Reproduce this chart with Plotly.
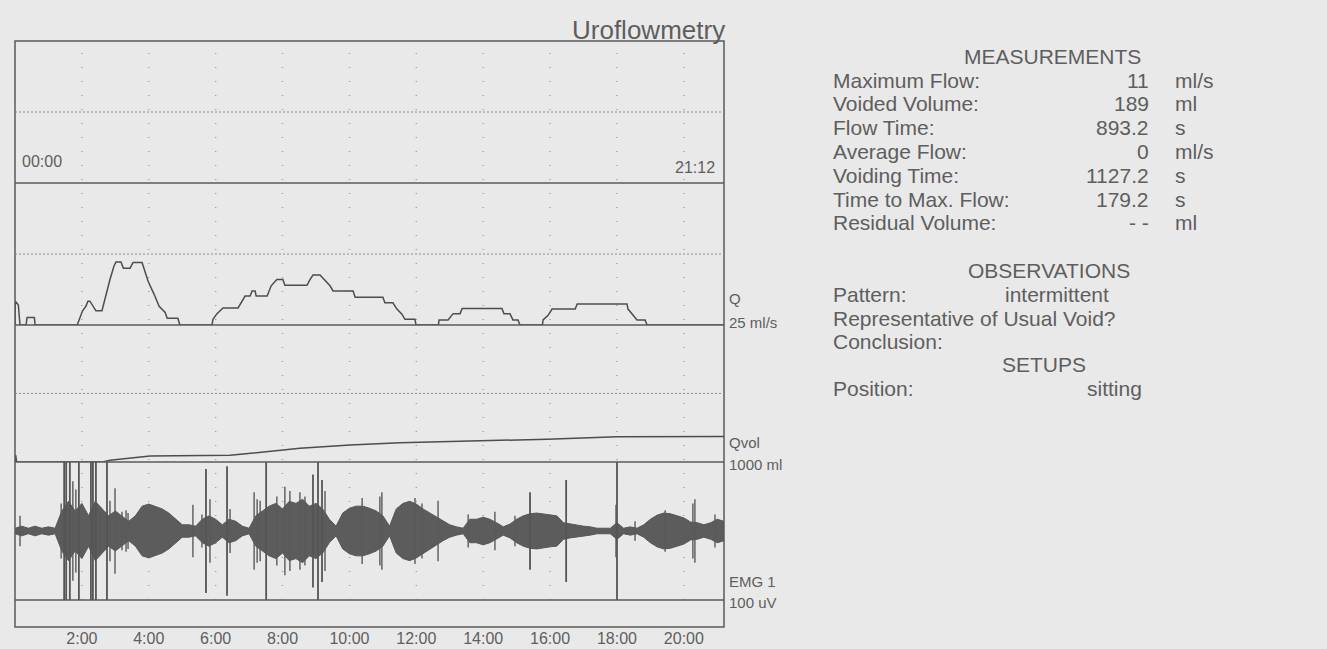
import plotly.graph_objects as go

# ---------------- data ----------------
# flow (ml/s) vs time (minutes)
q_time = [0.00, 0.01, 0.10, 0.15, 0.33, 0.36, 0.58, 0.60,
          1.86, 1.94, 2.02, 2.12, 2.18, 2.24, 2.33, 2.42, 2.60, 2.72, 2.84, 2.96,
          3.02, 3.17, 3.24, 3.44, 3.53, 3.80, 3.86, 3.98, 4.16, 4.31, 4.49, 4.55,
          4.87, 4.93,
          5.89, 5.92, 6.04, 6.22, 6.67, 6.80, 6.88, 7.03, 7.09, 7.18, 7.21, 7.54,
          7.66, 7.83, 8.01, 8.07, 8.73, 8.82, 8.91, 9.12, 9.27, 9.42, 9.51, 10.11,
          10.17, 11.00, 11.06, 11.30, 11.42, 11.57, 11.66, 11.96, 11.99,
          12.66, 12.68, 12.95, 13.10, 13.31, 13.37, 14.56, 14.62, 14.80, 14.89,
          15.04, 15.10,
          15.77, 15.79, 15.94, 16.06, 16.75, 16.81, 18.30, 18.33, 18.45, 18.60,
          18.84, 18.90, 21.20]
q_flow = [0.0, 4.2, 3.5, 0.0, 0.0, 1.3, 1.3, 0.0,
          0.0, 1.3, 2.5, 3.3, 4.2, 4.2, 3.3, 2.5, 2.5, 5.4, 8.0, 10.4,
          11.1, 11.1, 10.0, 10.0, 11.0, 11.0, 10.0, 7.7, 5.4, 3.3, 2.2, 1.2,
          1.2, 0.0,
          0.0, 1.0, 2.0, 3.0, 3.0, 4.2, 5.1, 5.1, 6.0, 6.0, 5.1, 5.1,
          6.9, 8.0, 8.0, 7.0, 7.0, 8.0, 8.8, 8.8, 7.9, 6.9, 6.0, 6.0,
          4.9, 4.9, 3.9, 3.9, 2.8, 1.9, 1.0, 1.0, 0.0,
          0.0, 0.9, 0.9, 2.0, 2.0, 2.9, 2.9, 2.0, 2.0, 0.9,
          0.9, 0.0,
          0.0, 0.9, 1.7, 2.8, 2.8, 3.7, 3.7, 2.8, 1.9, 0.9,
          0.9, 0.0, 0.0]

# voided volume (ml) vs time (minutes)
vol_time = [0.00, 0.02, 0.05, 2.63, 2.84, 4.04, 6.43, 8.52, 10.02, 11.51, 15.91, 18.00, 21.20]
vol_ml = [0, 50, 0, 0, 12, 44, 49, 100, 124, 141, 166, 185, 187]

# EMG envelope (half amplitude, uV) vs time (minutes)
emg_time = [0.0, 0.2, 0.4, 0.6, 0.8, 1.0, 1.2, 1.4, 1.6, 1.8, 2.0, 2.2, 2.4, 2.6, 2.8,
            3.0, 3.2, 3.4, 3.6, 3.8, 4.0, 4.2, 4.4, 4.6, 4.8, 5.0, 5.2, 5.4, 5.6, 5.8,
            6.0, 6.2, 6.4, 6.6, 6.8, 7.0, 7.2, 7.4, 7.6, 7.8, 8.0, 8.2, 8.4, 8.6, 8.8,
            9.0, 9.2, 9.4, 9.6, 9.8, 10.0, 10.2, 10.4, 10.6, 10.8, 11.0, 11.2, 11.4,
            11.6, 11.8, 12.0, 12.2, 12.4, 12.6, 12.8, 13.0, 13.2, 13.4, 13.6, 13.8,
            14.0, 14.2, 14.4, 14.6, 14.8, 15.0, 15.2, 15.4, 15.6, 15.8, 16.0, 16.2,
            16.4, 16.6, 16.8, 17.0, 17.2, 17.4, 17.6, 17.8, 18.0, 18.2, 18.4, 18.6,
            18.8, 19.0, 19.2, 19.4, 19.6, 19.8, 20.0, 20.2, 20.4, 20.6, 20.8, 21.0, 21.2]
emg_amp = [2, 3.5, 2, 3.5, 2, 3, 2, 14.5, 21.5, 14.5, 20, 11, 21.5, 16, 11,
           14.5, 11, 7, 11, 18, 19.5, 18, 16, 13, 8.5, 4.5, 4.5, 3.5, 8.5, 11,
           8.5, 4.5, 8.5, 7, 3.5, 2, 11, 14.5, 18, 20, 16, 21.5, 20, 23, 18,
           20, 16, 8.5, 3.5, 13, 16.5, 18, 18, 16.5, 14.5, 11, 3.5, 16,
           20, 21.5, 19.5, 16, 13, 10, 7, 4.5, 3, 2, 8.5, 8.5,
           10, 8.5, 6, 3, 5, 8.5, 11, 12.5, 13, 12.5, 11.5, 11,
           6, 5, 4.5, 3.5, 3, 2, 2, 2, 6, 2, 3, 2,
           4.5, 8.5, 11.5, 13, 12.5, 11, 9.5, 6.5, 6, 4.5, 6, 8.5, 7]

# large EMG artefact lines: time (minutes), half amplitude (uV)
spike_time = [1.47, 1.53, 1.64, 1.91, 2.27, 2.33, 2.42, 2.75, 7.51, 9.06, 18.00,
              5.71, 6.34, 8.91, 9.18, 15.40, 16.48]
spike_amp = [50, 50, 50, 50, 50, 50, 50, 50, 50, 50, 50,
             45, 47, 41, 37, 28, 37]

# smaller EMG spikes inside the bursts: time (minutes), half amplitude (uV)
burst_time = [0.15, 1.38, 1.73, 1.82, 2.54, 2.84, 2.99, 3.20, 3.32, 3.38, 5.32, 5.59,
              5.83, 6.43, 7.15, 7.24, 7.33, 7.83, 8.07, 8.22, 8.52, 8.67, 9.27, 10.38,
              10.91, 10.97, 11.96, 12.17, 12.65, 13.55, 14.35, 14.95, 17.97, 18.54,
              19.44, 20.27, 20.33, 20.93]
burst_amp = [11, 20, 36, 30, 17, 22, 31, 14, 15, 13, 19, 12,
             23, 16, 28, 23, 22, 25, 32, 29, 28, 25, 29, 24,
             25, 28, 24, 20, 22, 12, 14, 11, 19, 7,
             15, 20, 23, 12]

tick_vals = [2, 4, 6, 8, 10, 12, 14, 16, 18, 20]
tick_text = ["2:00", "4:00", "6:00", "8:00", "10:00", "12:00", "14:00", "16:00", "18:00", "20:00"]

measure_labels = ["Maximum Flow:", "Voided Volume:", "Flow Time:", "Average Flow:",
                  "Voiding Time:", "Time to Max. Flow:", "Residual Volume:"]
measure_values = ["11", "189", "893.2", "0", "1127.2", "179.2", "- -"]
measure_units = ["ml/s", "ml", "s", "ml/s", "s", "s", "ml"]

# ---------------- layout helpers ----------------
W, H = 1327, 649
L, R, T, B = 15, 724, 41, 627
P1, P2, P3, P4 = 183, 325, 462, 600  # panel boundaries (px)

def fx(px):
    return (px - L) / (R - L)

def fy(py):
    return (B - py) / (B - T)

FONT = "Liberation Sans, Arial, sans-serif"
TXT = "#5e5e5e"
LINE = "#4d4d4d"
BG = "#e9e9e9"

fig = go.Figure()

fig.add_trace(go.Scatter(x=q_time, y=q_flow, mode="lines", xaxis="x", yaxis="y2",
                         line=dict(color=LINE, width=1.5), hoverinfo="skip"))
fig.add_trace(go.Scatter(x=vol_time, y=vol_ml, mode="lines", xaxis="x", yaxis="y3",
                         line=dict(color=LINE, width=1.5), hoverinfo="skip"))

ex = list(emg_time) + list(reversed(emg_time))
ey = list(emg_amp) + [-a for a in reversed(emg_amp)]
fig.add_trace(go.Scatter(x=ex, y=ey, mode="lines", fill="toself", xaxis="x", yaxis="y4",
                         fillcolor="#5c5c5c", line=dict(color="#575757", width=1),
                         hoverinfo="skip"))

bx, by = [], []
for t, a in zip(burst_time, burst_amp):
    bx += [t, t, None]
    by += [-a, a, None]
fig.add_trace(go.Scatter(x=bx, y=by, mode="lines", xaxis="x", yaxis="y4",
                         line=dict(color="#5a5a5a", width=1.4), hoverinfo="skip"))

sx, sy = [], []
for t, a in zip(spike_time, spike_amp):
    sx += [t, t, None]
    sy += [-a, a, None]
fig.add_trace(go.Scatter(x=sx, y=sy, mode="lines", xaxis="x", yaxis="y4",
                         line=dict(color="#555555", width=1.8), hoverinfo="skip"))

shapes = []
# frame
shapes.append(dict(type="rect", xref="paper", yref="paper", x0=0, x1=1, y0=0, y1=1,
                   line=dict(color="#5a5a5a", width=1.5)))
# solid panel separators
for py in (P1, P2, P3, P4):
    shapes.append(dict(type="line", xref="paper", yref="paper", x0=0, x1=1,
                       y0=fy(py), y1=fy(py), line=dict(color="#5a5a5a", width=1.3)))
# dotted mid lines
for a, b in ((T, P1), (P1, P2), (P2, P3)):
    m = (a + b) / 2
    shapes.append(dict(type="line", xref="paper", yref="paper", x0=0, x1=1,
                       y0=fy(m), y1=fy(m), line=dict(color="#8c8c8c", width=1, dash="2px,2px")))
# vertical dotted grid
for t in tick_vals:
    shapes.append(dict(type="line", xref="x", yref="paper", x0=t, x1=t,
                       y0=fy(P4), y1=1, line=dict(color="#a3a3a3", width=1.5, dash="1px,13px"),
                       layer="below"))

ann = []
def text(s, px, py, size, xanchor="left", color=TXT):
    ann.append(dict(text=s, x=fx(px), y=fy(py), xref="paper", yref="paper",
                    xanchor=xanchor, yanchor="middle", showarrow=False,
                    font=dict(family=FONT, size=size, color=color)))

text("Uroflowmetry", 727, 30, 26, "right")
text("00:00", 20, 162, 16)
text("21:12", 717, 167, 16, "right")
text("Q", 727, 298, 15)
text("25 ml/s", 727, 322, 15)
text("Qvol", 727, 442, 15)
text("1000 ml", 727, 464, 15)
text("EMG 1", 727, 581, 15)
text("100 uV", 727, 602, 15)

text("MEASUREMENTS", 1052, 56, 21, "center")
for i, (lab, val, unit) in enumerate(zip(measure_labels, measure_values, measure_units)):
    y = 80 + i * 23.8
    text(lab, 831, y, 21)
    text(val, 1151, y, 21, "right")
    text(unit, 1173, y, 21)

text("OBSERVATIONS", 1049, 270, 21, "center")
text("Pattern:", 831, 294, 21)
text("intermittent", 1003, 294, 21)
text("Representative of Usual Void?", 831, 318, 21)
text("Conclusion:", 831, 341, 21)
text("SETUPS", 1044, 364, 21, "center")
text("Position:", 831, 388, 21)
text("sitting", 1144, 388, 21, "right")

ax_common = dict(showgrid=False, zeroline=False, showticklabels=False, showline=False,
                 ticks="", fixedrange=True, anchor="x")

fig.update_layout(
    width=W, height=H,
    margin=dict(l=L, r=W - R, t=T, b=H - B, autoexpand=False),
    paper_bgcolor=BG, plot_bgcolor=BG,
    showlegend=False,
    xaxis=dict(range=[0, 21.2], domain=[0, 1], anchor="free", position=0,
               tickvals=tick_vals, ticktext=tick_text, showgrid=False, zeroline=False,
               showline=False, ticks="", fixedrange=True,
               tickfont=dict(family=FONT, size=16, color=TXT)),
    yaxis=dict(domain=[fy(P1), 1], range=[0, 1], **ax_common),
    yaxis2=dict(domain=[fy(P2), fy(P1)], range=[0, 25], **ax_common),
    yaxis3=dict(domain=[fy(P3), fy(P2)], range=[0, 1000], **ax_common),
    yaxis4=dict(domain=[fy(P4), fy(P3)], range=[-50, 50], **ax_common),
    shapes=shapes,
    annotations=ann,
)

fig.write_html("out.html", config={"displayModeBar": False})
